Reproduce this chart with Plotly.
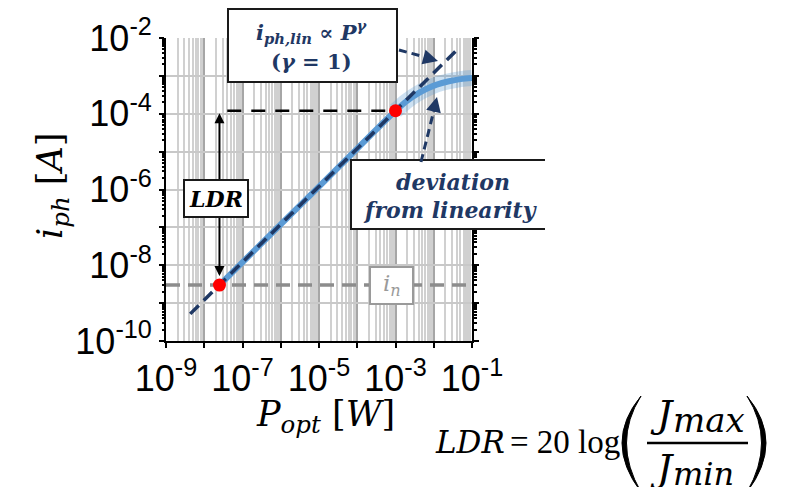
import math
import plotly.graph_objects as go

# Photocurrent measured against incident optical power
p_meas = [2.5e-8, 1e-6, 1e-4, 1e-3, 2e-3, 4e-3, 7e-3, 1.2e-2, 2.5e-2, 5e-2, 1e-1]
i_meas = [3e-9, 1.2e-7, 1.2e-5, 1.2e-4, 2.2e-4, 3.5e-4, 4.7e-4, 5.9e-4, 7.2e-4, 8.2e-4, 8.8e-4]

# Ideal linear response i_ph,lin ∝ P^γ with γ = 1
p_lin = [4.3e-9, 4.5e-2]
i_lin = [5.2e-10, 5.4e-3]

# Noise current floor i_n
p_noise = [1e-9, 1e-1]
i_noise = [3e-9, 3e-9]

# Lower and upper limits of the linear dynamic range
p_ldr = [2.5e-8, 1e-3]
i_ldr = [3e-9, 1.2e-4]

# Reference level of the upper limit
p_upper = [4e-8, 1e-3]
i_upper = [1.2e-4, 1.2e-4]

x_tick_vals = [1e-9, 1e-8, 1e-7, 1e-6, 1e-5, 1e-4, 1e-3, 1e-2, 1e-1]
x_tick_text = ["10<sup>-9</sup>", "", "10<sup>-7</sup>", "", "10<sup>-5</sup>", "",
               "10<sup>-3</sup>", "", "10<sup>-1</sup>"]
y_tick_vals = [1e-10, 1e-9, 1e-8, 1e-7, 1e-6, 1e-5, 1e-4, 1e-3, 1e-2]
y_tick_text = ["10<sup>-10</sup>", "", "10<sup>-8</sup>", "", "10<sup>-6</sup>", "",
               "10<sup>-4</sup>", "", "10<sup>-2</sup>"]

# ---- styling ----------------------------------------------------------
W, H = 787, 487
FX0, FX1, FY0, FY1 = 166, 472, 38, 341          # plot frame in pixels
LIGHT_BLUE = "#5b9bd5"
NAVY = "#1f3864"
SANS = "Liberation Sans, Arial, sans-serif"
SERIF = "DejaVu Serif, serif"
TIMES = "Liberation Serif, Times New Roman, serif"


def px(x):
    # pixel column -> paper fraction of the plot area
    return (x - FX0) / (FX1 - FX0)


def py(y):
    # pixel row -> paper fraction of the plot area
    return (FY1 - y) / (FY1 - FY0)


x_minor = [m * v for v in x_tick_vals[:-1] for m in range(2, 10)]
y_minor = [m * v for v in y_tick_vals[:-1] for m in range(2, 10)]

fig = go.Figure()

fig.add_trace(go.Scatter(x=p_noise, y=i_noise, mode="lines", hoverinfo="skip",
                         line=dict(color="#8c8c8c", width=3.5, dash="14px,8px")))
fig.add_trace(go.Scatter(x=p_upper, y=i_upper, mode="lines", hoverinfo="skip",
                         line=dict(color="black", width=2.5, dash="14px,10px")))
fig.add_trace(go.Scatter(x=p_meas[3:], y=i_meas[3:], mode="lines", hoverinfo="skip",
                         line=dict(color="rgba(91,155,213,0.3)", width=16, shape="spline")))
fig.add_trace(go.Scatter(x=p_meas, y=i_meas, mode="lines",
                         line=dict(color=LIGHT_BLUE, width=6, shape="spline")))
fig.add_trace(go.Scatter(x=p_lin, y=i_lin, mode="lines",
                         line=dict(color=NAVY, width=3.5, dash="12px,7px")))
fig.add_trace(go.Scatter(x=p_ldr, y=i_ldr, mode="markers", cliponaxis=False,
                         marker=dict(color="#ff0000", size=13)))

shapes = []
# box of the linear-law label
shapes.append(dict(type="rect", xref="paper", yref="paper",
                   x0=px(228), x1=px(397), y0=py(82), y1=py(9),
                   fillcolor="white", line=dict(color="#1a1a1a", width=2)))
# box of the deviation label (open on its right side)
shapes.append(dict(type="rect", xref="paper", yref="paper",
                   x0=px(351), x1=px(545), y0=py(229), y1=py(160),
                   fillcolor="white", line=dict(width=0)))
shapes.append(dict(type="path", xref="paper", yref="paper",
                   path=f"M {px(545)} {py(160)} L {px(351)} {py(160)} L {px(351)} {py(229)} L {px(545)} {py(229)}",
                   line=dict(color="#1a1a1a", width=2)))
# box of the noise label
shapes.append(dict(type="rect", xref="paper", yref="paper",
                   x0=px(370), x1=px(413), y0=py(304), y1=py(267),
                   fillcolor="white", line=dict(color="#9a9a9a", width=2)))
# dashed pointer shafts
shapes.append(dict(type="line", xref="paper", yref="paper",
                   x0=px(399), y0=py(50), x1=px(432), y1=py(59),
                   line=dict(color=NAVY, width=3, dash="8px,5px")))
shapes.append(dict(type="line", xref="paper", yref="paper",
                   x0=px(421), y0=py(162), x1=px(434), y1=py(110),
                   line=dict(color=NAVY, width=3, dash="8px,5px")))
# formula: parentheses and fraction bar
shapes.append(dict(type="path", xref="paper", yref="paper",
                   path=(f"M {px(641)} {py(396)} Q {px(603)} {py(442)} {px(641)} {py(492)} "
                         f"Q {px(612)} {py(442)} {px(641)} {py(396)} Z"),
                   fillcolor="black", line=dict(color="black", width=1)))
shapes.append(dict(type="path", xref="paper", yref="paper",
                   path=(f"M {px(747)} {py(396)} Q {px(785)} {py(442)} {px(747)} {py(492)} "
                         f"Q {px(776)} {py(442)} {px(747)} {py(396)} Z"),
                   fillcolor="black", line=dict(color="black", width=1)))
shapes.append(dict(type="line", xref="paper", yref="paper",
                   x0=px(647), x1=px(748), y0=py(443), y1=py(443),
                   line=dict(color="black", width=2.5)))

ann = []


def text(x, y, s, size, family=SERIF, color="black", xanchor="center", **kw):
    ann.append(dict(x=px(x), y=py(y), xref="paper", yref="paper", text=s,
                    xanchor=xanchor, yanchor="middle", showarrow=False,
                    font=dict(family=family, size=size, color=color), **kw))


# linear-law label
text(311, 32, "<b><i>i<sub>ph,lin</sub></i> ∝ <i>P<sup>γ</sup></i></b>", 21, color=NAVY)
text(311, 62, "<b>(<i>γ</i> = 1)</b>", 21, color=NAVY)

# pointer arrowheads
ann.append(dict(x=px(438), y=py(61), xref="paper", yref="paper", text="",
                showarrow=True, ax=-12, ay=-3.3, arrowhead=2, arrowsize=1,
                arrowwidth=3, arrowcolor=NAVY))
ann.append(dict(x=px(437), y=py(97), xref="paper", yref="paper", text="",
                showarrow=True, ax=-3, ay=12.5, arrowhead=2, arrowsize=1,
                arrowwidth=3, arrowcolor=NAVY))

# LDR double arrow spanning noise floor to the upper limit
lx = math.log10(p_ldr[0])
ann.append(dict(x=lx, y=math.log10(i_ldr[0]), xref="x", yref="y",
                ax=lx, ay=math.log10(i_upper[0]), axref="x", ayref="y",
                text="", showarrow=True, arrowside="end+start",
                arrowhead=2, startarrowhead=2, arrowsize=1, startarrowsize=1,
                arrowwidth=2, arrowcolor="black", standoff=9, startstandoff=1))
ann.append(dict(x=px(216), y=py(198.5), xref="paper", yref="paper",
                xanchor="center", yanchor="middle",
                text="<b><i>LDR</i></b>", showarrow=False, width=62, height=35,
                bgcolor="white", bordercolor="#1a1a1a", borderwidth=2, borderpad=0,
                font=dict(family=SERIF, size=22, color="black")))

# deviation label
text(453, 182, "<b><i>deviation</i></b>", 22, color=NAVY)
ann.append(dict(x=px(362), y=py(210), xref="paper", yref="paper",
                xanchor="left", yanchor="middle",
                text="<b><i>from linearity</i></b>", showarrow=False, align="left",
                width=178, height=30, borderpad=0,
                font=dict(family=SERIF, size=22, color=NAVY)))

# noise label
text(391.5, 285, "<i>i<sub>n</sub></i>", 23, color="#9a9a9a")

# axis titles
text(52, 186, "<i>i<sub>ph</sub></i> [<i>A</i>]", 35, textangle=-90)
text(325, 416, "<i>P<sub>opt</sub></i> [<i>W</i>]", 35)

# formula LDR = 20 log(Jmax / Jmin)
text(433, 442, "<i>LDR</i>", 31, xanchor="left")
text(508, 442, "= 20 log", 33, family=TIMES, xanchor="left")
text(648, 414, "<i>J</i>", 38, xanchor="left")
text(671, 420, "<i>max</i>", 34, xanchor="left")
text(648, 468, "<i>J</i>", 38, xanchor="left")
text(671, 474, "<i>min</i>", 32, xanchor="left")

fig.update_layout(
    width=W, height=H, autosize=False,
    margin=dict(l=FX0, r=W - FX1, t=FY0, b=H - FY1, pad=0, autoexpand=False),
    paper_bgcolor="white", plot_bgcolor="white",
    showlegend=False,
    shapes=shapes,
    annotations=ann,
    xaxis=dict(
        type="log", range=[-9, -1], automargin=False,
        tickmode="array", tickvals=x_tick_vals, ticktext=x_tick_text,
        ticks="outside", ticklen=5, tickwidth=1.5, tickcolor="black",
        tickfont=dict(family=SANS, size=36, color="black"),
        showline=True, linecolor="black", linewidth=2,
        showgrid=True, gridcolor="#a6a6a6", gridwidth=2, zeroline=False,
        minor=dict(tickvals=x_minor, ticks="", showgrid=True,
                   gridcolor="rgba(150,150,150,0.45)", gridwidth=1.5),
    ),
    yaxis=dict(
        type="log", range=[-10, -2], automargin=False,
        tickmode="array", tickvals=y_tick_vals, ticktext=y_tick_text,
        ticks="outside", ticklen=5, tickwidth=1.5, tickcolor="black",
        tickfont=dict(family=SANS, size=36, color="black"),
        showline=True, linecolor="black", linewidth=2, mirror="allticks",
        showgrid=True, gridcolor="#c8c8c8", gridwidth=2, zeroline=False,
        minor=dict(tickvals=y_minor, ticks="outside", ticklen=2.5,
                   tickwidth=1.5, tickcolor="black", showgrid=False),
    ),
)

fig.write_html("out.html")
